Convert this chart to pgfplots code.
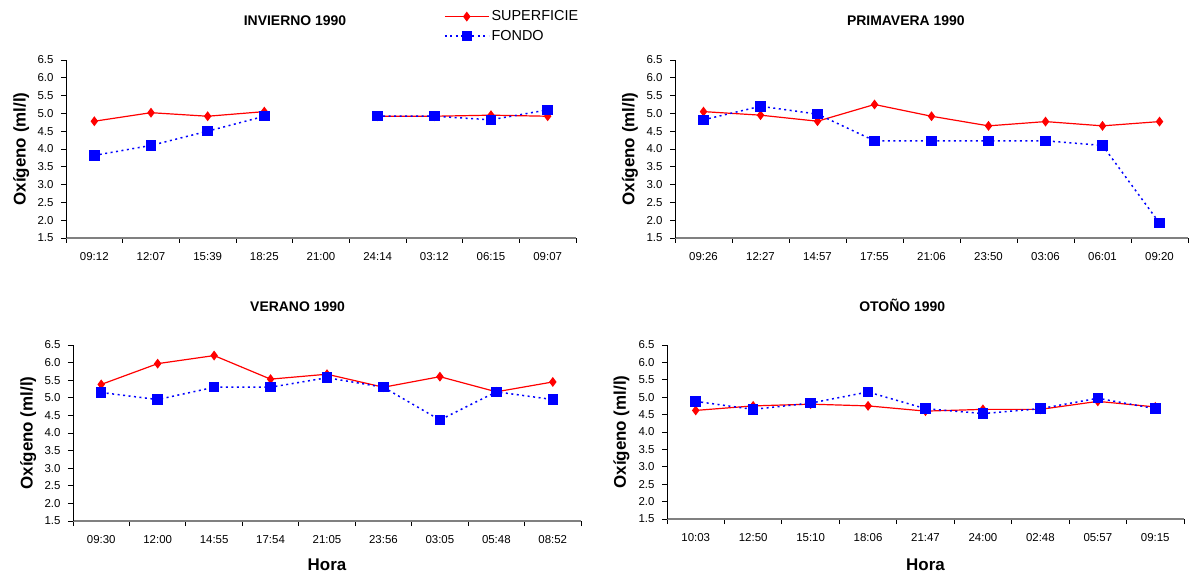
\documentclass[border=0pt]{standalone}
\usepackage{pgfplots}
\pgfplotsset{compat=1.18}
\usepackage{fontspec}
\setmainfont{Liberation Sans}

\definecolor{supred}{RGB}{255,0,0}
\definecolor{fonblue}{RGB}{0,0,255}

\pgfplotsset{
  oxy/.style={
    scale only axis,
    xmin=-0.5, xmax=8.5, ymin=1.5, ymax=6.5,
    axis x line=bottom, axis y line=left,
    axis line style={-},
    x axis line style={draw=gray, line width=1.6bp},
    y axis line style={draw=black, line width=0.8bp},
    tick align=outside,
    xtick={0,1,2,3,4,5,6,7,8},
    major x tick style={draw=none},
    minor xtick={-0.5,0.5,1.5,2.5,3.5,4.5,5.5,6.5,7.5,8.5},
    minor x tick style={draw=black, line width=0.8bp},
    minor tick length=5bp,
    major tick length=5bp,
    ytick={1.5,2,2.5,3,3.5,4,4.5,5,5.5,6,6.5},
    y tick style={draw=black, line width=0.8bp},
    yticklabel style={/pgf/number format/.cd, fixed, fixed zerofill, precision=1, assume math mode=true, /tikz/.cd, font=\fontsize{11.5}{12}\selectfont, xshift=-4bp},
    xticklabel style={font=\fontsize{11.5}{12}\selectfont, yshift=-6bp},
    ylabel={Oxígeno (ml/l)},
    ylabel style={at={(axis description cs:-0.088,0.5)}, anchor=center, font=\bfseries\fontsize{17}{19}\selectfont},
    title style={anchor=center, font=\bfseries\fontsize{14}{16}\selectfont},
    xlabel style={font=\bfseries\fontsize{17}{19}\selectfont, yshift=-8bp},
    clip=false,
    unbounded coords=jump,
  },
  sup/.style={color=supred, line width=1.2bp, mark=diamond*, mark size=4bp, mark options={solid, fill=supred}},
  fon/.style={color=fonblue, line width=1.5bp, dash pattern=on 2bp off 3.5bp, mark=square*, mark size=4.5bp, mark options={solid, fill=fonblue}},
}

\begin{document}
\begin{tikzpicture}
\useasboundingbox (0,0) rectangle (1193bp,574bp);

% INVIERNO
\begin{axis}[oxy, at={(66bp,336bp)}, anchor=south west, width=510bp, height=178bp,
  xticklabels={09:12,12:07,15:39,18:25,21:00,24:14,03:12,06:15,09:07},
  title={INVIERNO 1990}, title style={at={(axis description cs:0.449,1)}, yshift=33bp},
  legend style={draw=none, fill=none, at={(axis description cs:0.735,1.30)}, anchor=north west,
    font=\fontsize{14.5}{16}\selectfont, row sep=4bp, cells={anchor=west}},
  legend image code/.code={\draw[mark repeat=2,mark phase=2] plot coordinates {(0bp,0bp)(22bp,0bp)(44bp,0bp)};},
]
\addplot[sup] coordinates {(0,4.78)(1,5.02)(2,4.92)(3,5.05)(4,nan)(5,4.92)(6,4.92)(7,4.95)(8,4.92)};
\addplot[fon] coordinates {(0,3.82)(1,4.10)(2,4.50)(3,4.92)(4,nan)(5,4.92)(6,4.92)(7,4.82)(8,5.10)};
\legend{SUPERFICIE,FONDO}
\end{axis}

% PRIMAVERA
\begin{axis}[oxy, at={(675bp,336bp)}, anchor=south west, width=513bp, height=178bp,
  xticklabels={09:26,12:27,14:57,17:55,21:06,23:50,03:06,06:01,09:20},
  title={PRIMAVERA 1990}, title style={at={(axis description cs:0.45,1)}, yshift=33bp},
]
\addplot[sup] coordinates {(0,5.05)(1,4.95)(2,4.78)(3,5.25)(4,4.92)(5,4.65)(6,4.77)(7,4.65)(8,4.77)};
\addplot[fon] coordinates {(0,4.82)(1,5.20)(2,4.98)(3,4.23)(4,4.23)(5,4.23)(6,4.23)(7,4.10)(8,1.92)};
\end{axis}

% VERANO
\begin{axis}[oxy, at={(73bp,53bp)}, anchor=south west, width=508bp, height=176bp,
  xticklabels={09:30,12:00,14:55,17:54,21:05,23:56,03:05,05:48,08:52},
  title={VERANO 1990}, title style={at={(axis description cs:0.442,1)}, yshift=32bp},
  xlabel={Hora},
]
\addplot[sup] coordinates {(0,5.38)(1,5.97)(2,6.20)(3,5.53)(4,5.67)(5,5.30)(6,5.60)(7,5.17)(8,5.45)};
\addplot[fon] coordinates {(0,5.15)(1,4.95)(2,5.30)(3,5.30)(4,5.57)(5,5.30)(6,4.37)(7,5.17)(8,4.95)};
\end{axis}

% OTONO
\begin{axis}[oxy, at={(667bp,55bp)}, anchor=south west, width=517bp, height=174bp,
  xticklabels={10:03,12:50,15:10,18:06,21:47,24:00,02:48,05:57,09:15},
  title={OTOÑO 1990}, title style={at={(axis description cs:0.455,1)}, yshift=34bp},
  xlabel={Hora}, xlabel style={yshift=-2bp},
]
\addplot[sup] coordinates {(0,4.62)(1,4.75)(2,4.80)(3,4.75)(4,4.60)(5,4.65)(6,4.65)(7,4.88)(8,4.72)};
\addplot[fon] coordinates {(0,4.88)(1,4.65)(2,4.83)(3,5.15)(4,4.67)(5,4.53)(6,4.67)(7,4.97)(8,4.67)};
\end{axis}
\end{tikzpicture}
\end{document}
